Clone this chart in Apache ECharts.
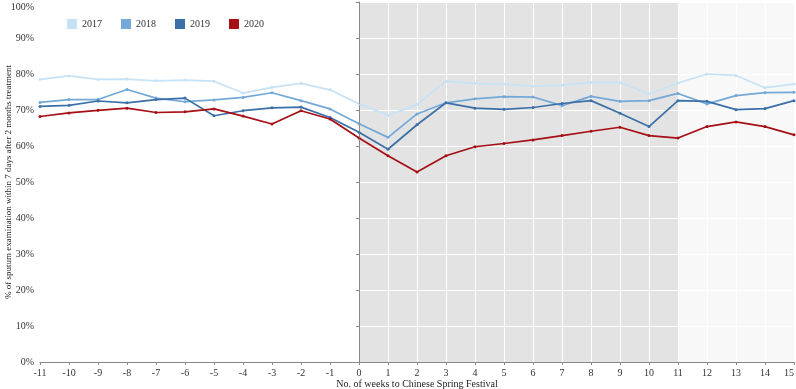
<!DOCTYPE html>
<html>
<head>
<meta charset="utf-8">
<script src="https://cdn.jsdelivr.net/npm/echarts@6/dist/echarts.min.js"></script>
<style>
  html, body { margin: 0; padding: 0; background: #fff; }
  #main { width: 796px; height: 389px; }
</style>
</head>
<body>
<div id="main"></div>
<script>
// 周次（距春节）
var weeks = [-11, -10, -9, -8, -7, -6, -5, -4, -3, -2, -1, 0, 1, 2, 3, 4, 5, 6, 7, 8, 9, 10, 11, 12, 13, 14, 15];
// 各年比例 (%)
var y2017 = [78.5, 79.5, 78.5, 78.6, 78.1, 78.3, 78.0, 74.7, 76.3, 77.4, 75.6, 71.7, 68.5, 71.5, 78.0, 77.4, 77.2, 76.6, 76.9, 77.7, 77.6, 74.5, 77.5, 80.0, 79.6, 76.2, 77.2];
var y2018 = [72.1, 72.9, 72.9, 75.7, 73.3, 72.3, 72.8, 73.5, 74.8, 72.6, 70.3, 66.2, 62.4, 68.9, 72.0, 73.1, 73.7, 73.6, 71.2, 73.8, 72.4, 72.6, 74.6, 71.7, 74.0, 74.8, 74.9];
var y2019 = [71.0, 71.3, 72.5, 72.0, 72.9, 73.3, 68.4, 69.8, 70.6, 70.8, 67.9, 63.8, 59.1, 65.9, 72.0, 70.5, 70.2, 70.7, 71.8, 72.6, 69.1, 65.4, 72.6, 72.4, 70.1, 70.4, 72.6];
var y2020 = [68.2, 69.2, 69.9, 70.5, 69.3, 69.5, 70.3, 68.3, 66.1, 69.8, 67.5, 62.2, 57.3, 52.8, 57.3, 59.8, 60.7, 61.7, 62.9, 64.1, 65.2, 62.9, 62.2, 65.4, 66.7, 65.4, 63.1];
var yTicks = [0, 10, 20, 30, 40, 50, 60, 70, 80, 90, 100];

var serif = "Liberation Serif";

function pairs(arr) {
    return weeks.map(function (w, i) { return [w, arr[i]]; });
}

function lineSeries(name, arr, color) {
    return {
        name: name,
        type: "line",
        data: pairs(arr),
        symbol: "circle",
        symbolSize: 3,
        lineStyle: { width: 1.7, color: color },
        itemStyle: { color: color },
        z: 3
    };
}

var myChart = echarts.init(document.getElementById("main"));
var option = {
    animation: false,
    textStyle: { fontFamily: serif },
    grid: { left: 40, right: 2, top: 2, bottom: 27, containLabel: false, outerBoundsMode: "none" },
    legend: {
        left: 62,
        top: 14,
        icon: "rect",
        itemWidth: 10,
        itemHeight: 10,
        itemGap: 19,
        textStyle: { fontFamily: serif, fontSize: 10, color: "#333" },
        data: ["2017", "2018", "2019", "2020"]
    },
    xAxis: {
        type: "value",
        min: -11,
        max: 15,
        interval: 1,
        z: 1.5,
        name: "No. of weeks to Chinese Spring Festival",
        nameLocation: "middle",
        nameGap: 17,
        nameMoveOverlap: false,
        nameTextStyle: { fontFamily: serif, fontSize: 10, color: "#222" },
        axisLine: { lineStyle: { color: "#888" } },
        axisTick: { show: true, length: 3, lineStyle: { color: "#888" } },
        axisLabel: { fontFamily: serif, fontSize: 10, color: "#333", margin: 6, alignMaxLabel: "right" },
        splitLine: { show: true, lineStyle: { color: "#fff", width: 1 } }
    },
    yAxis: {
        type: "value",
        min: 0,
        max: 100,
        interval: 10,
        z: 1.5,
        name: "% of sputum examination within 7 days after 2 months treatment",
        nameLocation: "middle",
        nameGap: 27,
        nameMoveOverlap: false,
        nameTextStyle: { fontFamily: serif, fontSize: 9, color: "#222" },
        axisLine: { show: true, lineStyle: { color: "#888" } },
        axisTick: { show: true, length: 3, lineStyle: { color: "#888" } },
        axisLabel: {
            fontFamily: serif, fontSize: 10, color: "#333", margin: 6,
            verticalAlignMaxLabel: "top",
            formatter: function (v) { return yTicks.indexOf(v) >= 0 ? v + "%" : ""; }
        },
        splitLine: { show: true, lineStyle: { color: "#fff", width: 1 } }
    },
    series: [
        {
            name: "bg",
            type: "line",
            data: [],
            silent: true,
            markArea: {
                silent: true,
                data: [
                    [{ xAxis: 0, itemStyle: { color: "#e3e3e3" } }, { xAxis: 11 }],
                    [{ xAxis: 11, itemStyle: { color: "#f8f8f8" } }, { xAxis: 15 }]
                ]
            },
            markLine: {
                silent: true,
                symbol: "none",
                label: { show: false },
                lineStyle: { color: "#888", type: "dotted", width: 1 },
                data: [{ xAxis: 0 }]
            }
        },
        lineSeries("2017", y2017, "#c6e2f5"),
        lineSeries("2018", y2018, "#73a8d8"),
        lineSeries("2019", y2019, "#3b6fa7"),
        lineSeries("2020", y2020, "#a50f15")
    ]
};
myChart.setOption(option);
</script>
</body>
</html>
